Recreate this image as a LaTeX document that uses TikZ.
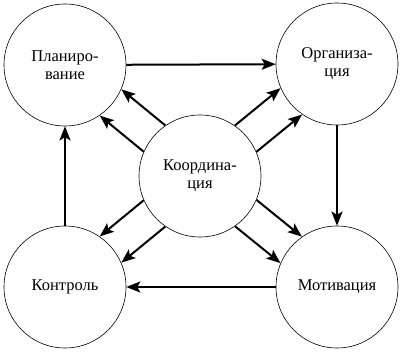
\documentclass[tikz,border=0pt]{standalone}
\usepackage{fontspec}
\setmainfont{Liberation Serif}
\usetikzlibrary{arrows.meta,calc}
\begin{document}
\begin{tikzpicture}[x=1pt,y=-1pt,
  blob/.style={draw,circle,line width=0.6pt,minimum size=122pt,inner sep=0pt,align=center,
    font=\rmfamily\fontsize{16.5pt}{18pt}\selectfont},
  arr/.style={line width=2pt,-{Stealth[length=14pt,width=11pt,inset=3pt]}}]
\useasboundingbox (0,0) rectangle (401,352);
\node[blob] (tl) at (65,65) {Планиро-\\вание};
\node[blob] (tr) at (337,64) {Организа-\\ция};
\node[blob] (c) at (200,176) {Координа-\\ция};
\node[blob] (bl) at (65,287) {Контроль};
\node[blob] (br) at (337,287) {Мотивация};
\draw[arr] (tl) -- (tr);
\draw[arr] (tr) -- (br);
\draw[arr] (br) -- (bl);
\draw[arr] (bl) -- (tl);
\foreach \t in {tl,tr,bl,br}{
  \foreach \r in {90,-90}{
    \coordinate (a) at ($(c.center)!59pt!(\t.center)$);
    \coordinate (s) at ($(a)!17pt!\r:(\t.center)$);
    \coordinate (b) at ($(\t.center)!59pt!(c.center)$);
    \coordinate (e) at ($(b)!17pt!-\r:(c.center)$);
    \draw[arr] (s) -- (e);
  }
}
\end{tikzpicture}
\end{document}
